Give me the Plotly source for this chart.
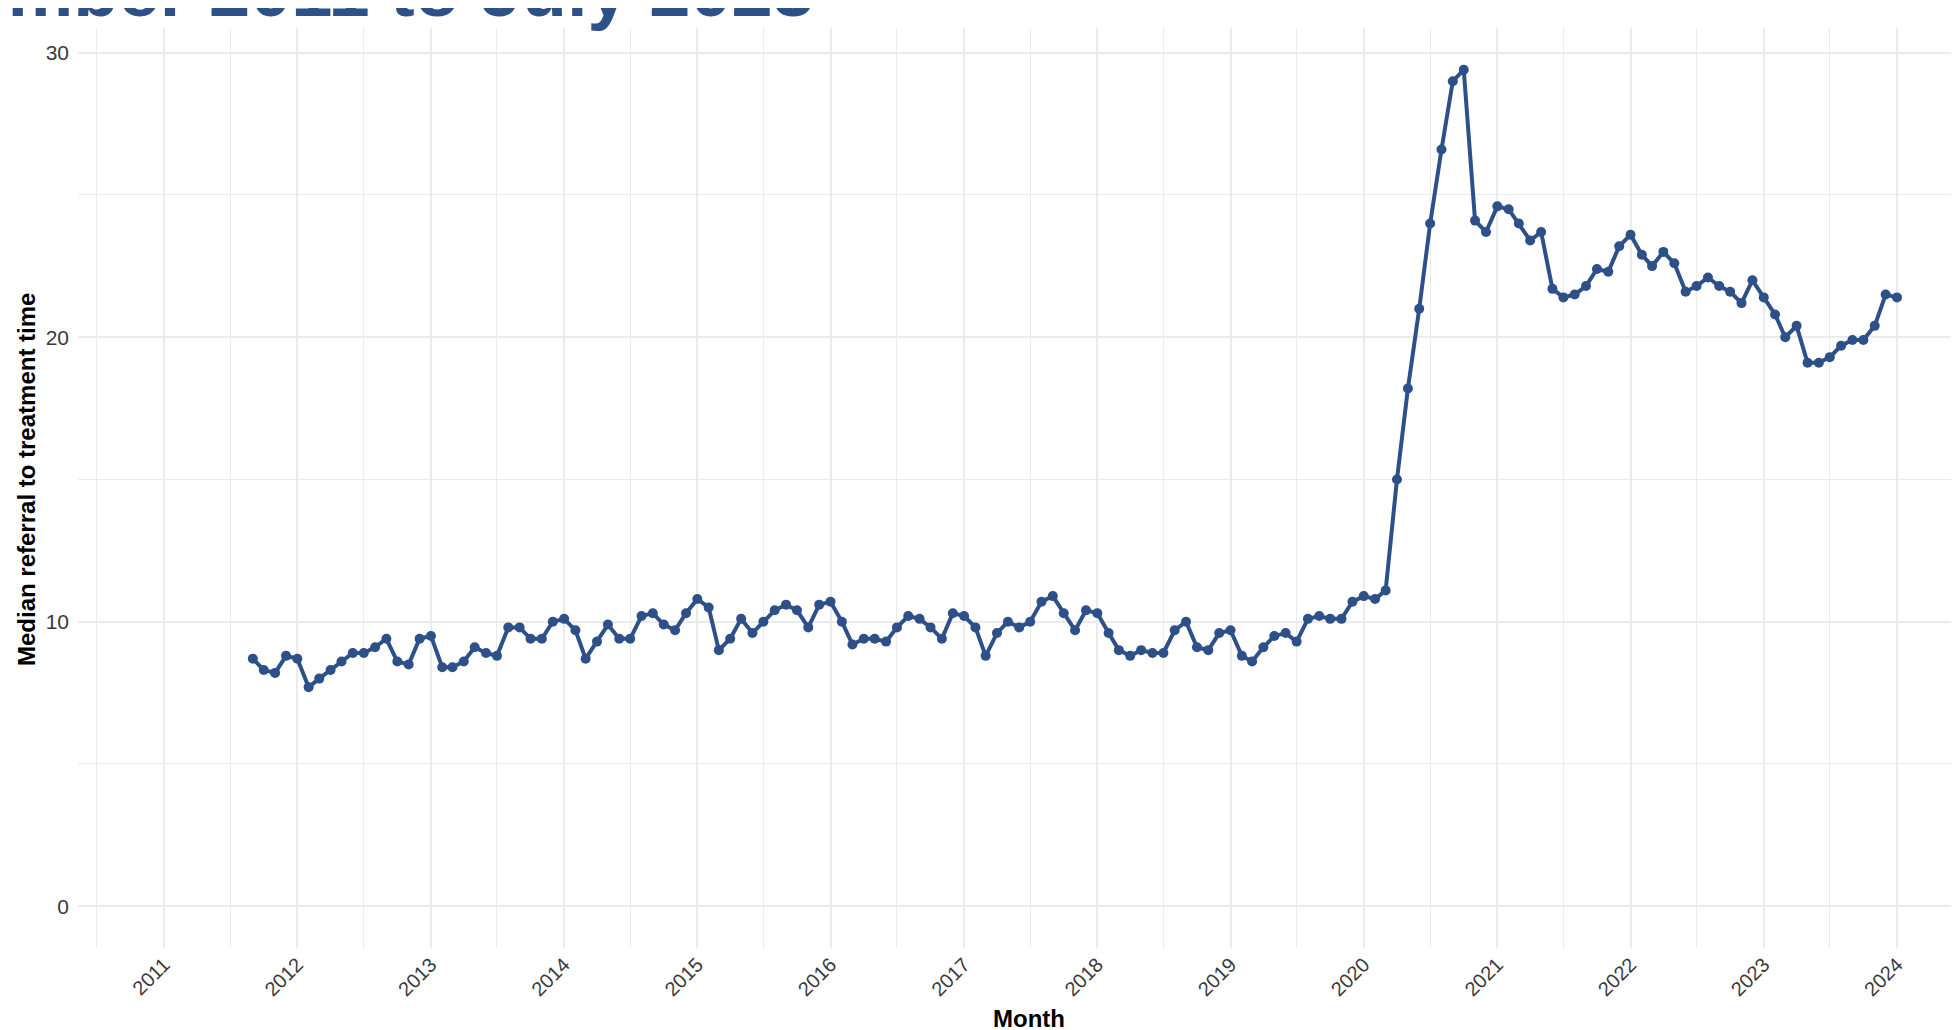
import pandas as pd
import plotly.graph_objects as go

# Monthly median referral-to-treatment time (weeks), Sep 2011 onwards
start_month = '2011-09-01'
values_2011 = [8.7, 8.3, 8.2, 8.8]
values_2012 = [8.7, 7.7, 8.0, 8.3, 8.6, 8.9, 8.9, 9.1, 9.4, 8.6, 8.5, 9.4]
values_2013 = [9.5, 8.4, 8.4, 8.6, 9.1, 8.9, 8.8, 9.8, 9.8, 9.4, 9.4, 10.0]
values_2014 = [10.1, 9.7, 8.7, 9.3, 9.9, 9.4, 9.4, 10.2, 10.3, 9.9, 9.7, 10.3]
values_2015 = [10.8, 10.5, 9.0, 9.4, 10.1, 9.6, 10.0, 10.4, 10.6, 10.4, 9.8, 10.6]
values_2016 = [10.7, 10.0, 9.2, 9.4, 9.4, 9.3, 9.8, 10.2, 10.1, 9.8, 9.4, 10.3]
values_2017 = [10.2, 9.8, 8.8, 9.6, 10.0, 9.8, 10.0, 10.7, 10.9, 10.3, 9.7, 10.4]
values_2018 = [10.3, 9.6, 9.0, 8.8, 9.0, 8.9, 8.9, 9.7, 10.0, 9.1, 9.0, 9.6]
values_2019 = [9.7, 8.8, 8.6, 9.1, 9.5, 9.6, 9.3, 10.1, 10.2, 10.1, 10.1, 10.7]
values_2020 = [10.9, 10.8, 11.1, 15.0, 18.2, 21.0, 24.0, 26.6, 29.0, 29.4, 24.1, 23.7]
values_2021 = [24.6, 24.5, 24.0, 23.4, 23.7, 21.7, 21.4, 21.5, 21.8, 22.4, 22.3, 23.2]
values_2022 = [23.6, 22.9, 22.5, 23.0, 22.6, 21.6, 21.8, 22.1, 21.8, 21.6, 21.2, 22.0]
values_2023 = [21.4, 20.8, 20.0, 20.4, 19.1, 19.1, 19.3, 19.7, 19.9, 19.9, 20.4, 21.5]
values_2024 = [21.4]

year_ticks = list(range(2011, 2025))
y_ticks = [0, 10, 20, 30]

median_weeks = (values_2011 + values_2012 + values_2013 + values_2014 + values_2015
                + values_2016 + values_2017 + values_2018 + values_2019 + values_2020
                + values_2021 + values_2022 + values_2023 + values_2024)
months = pd.date_range(start_month, periods=len(median_weeks), freq='MS')

LINE_COLOR = '#2d5088'
GRID = '#ebebeb'
TICK_COLOR = '#3a3a3a'
FONT = 'Liberation Sans, Arial, sans-serif'

fig = go.Figure()

fig.add_trace(go.Scatter(
    x=months,
    y=median_weeks,
    mode='lines+markers',
    line=dict(color=LINE_COLOR, width=4),
    marker=dict(color=LINE_COLOR, size=10),
    showlegend=False,
    hovertemplate='%{x|%b %Y}<br>%{y:.1f}<extra></extra>'
))

# page body has an 8px margin, so the figure is sized/offset to compensate
fig.update_layout(
    width=1951,
    height=1022,
    plot_bgcolor='#ffffff',
    paper_bgcolor='#ffffff',
    font=dict(family=FONT, color=TICK_COLOR),
    margin=dict(l=70, r=0, t=20, b=82),
    xaxis=dict(
        range=['2010-05-10', '2024-06-19'],
        tickvals=[f'{y}-01-01' for y in year_ticks],
        ticktext=[str(y) for y in year_ticks],
        tickangle=-45,
        tickfont=dict(size=20, color=TICK_COLOR),
        showgrid=True,
        gridcolor=GRID,
        gridwidth=2,
        zeroline=False,
        showline=False,
        ticks='',
        minor=dict(
            tickvals=[f'{y}-07-01' for y in range(2010, 2025)],
            showgrid=True,
            gridcolor=GRID,
            gridwidth=1.2,
            ticks=''
        )
    ),
    yaxis=dict(
        range=[-1.47, 30.87],
        tickvals=y_ticks,
        ticktext=[str(v) for v in y_ticks],
        tickfont=dict(size=21, color=TICK_COLOR),
        ticklabelstandoff=8,
        showgrid=True,
        gridcolor=GRID,
        gridwidth=2,
        zeroline=False,
        showline=False,
        ticks='',
        minor=dict(
            tickvals=[5, 15, 25],
            showgrid=True,
            gridcolor=GRID,
            gridwidth=1.2,
            ticks=''
        )
    ),
    annotations=[
        dict(
            text='<b>September 2011 to July 2023</b>',
            xref='paper', yref='paper',
            x=0.3923, y=0.994,
            xanchor='right', yanchor='bottom',
            showarrow=False,
            font=dict(size=74, color=LINE_COLOR, family=FONT)
        ),
        dict(
            text='<b>Median referral to treatment time</b>',
            xref='paper', yref='paper',
            x=-0.0271, y=0.5087,
            xanchor='center', yanchor='middle',
            textangle=-90,
            showarrow=False,
            font=dict(size=24, color='#000000', family=FONT)
        ),
        dict(
            text='<b>Month</b>',
            xref='paper', yref='paper',
            x=0.5056, y=-0.0765,
            xanchor='center', yanchor='middle',
            showarrow=False,
            font=dict(size=24, color='#000000', family=FONT)
        ),
    ]
)

fig.write_html('out.html')
